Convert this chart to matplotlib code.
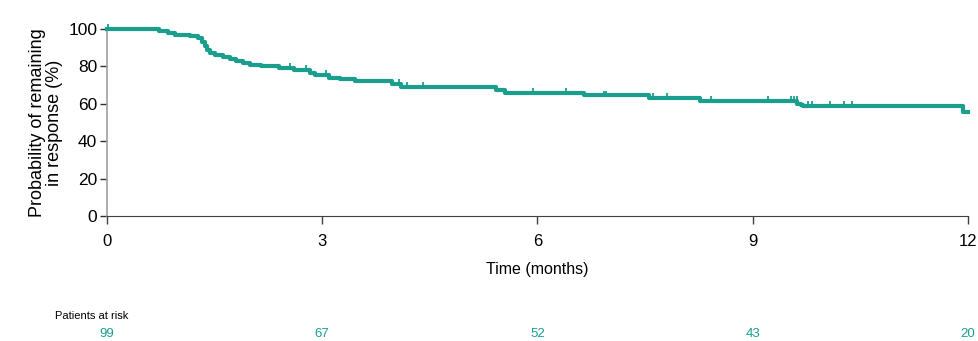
import numpy as np
import matplotlib.pyplot as plt

# Kaplan-Meier curve: event times (months) and survival (%) after each drop
event_times = [0, 0.72, 0.85, 0.95, 1.15, 1.27, 1.33, 1.36, 1.39, 1.43, 1.5, 1.62, 1.72,
               1.8, 1.9, 2.0, 2.15, 2.4, 2.6, 2.83, 2.9, 3.1, 3.25, 3.45, 3.97, 4.1,
               5.42, 5.55, 6.65, 7.55, 8.27, 9.62, 9.67, 9.7, 11.93, 12.0]
survival = [100, 99, 98, 97, 96, 95, 93, 91, 89, 87, 86, 85, 84,
            83, 82, 81, 80, 79, 78, 76.5, 75.5, 74, 73, 72, 70.5, 69,
            67.5, 66, 64.5, 63, 61.5, 60, 59.5, 59, 55.5, 55.5]
censor_times = [0.02, 2.55, 2.78, 3.05, 4.07, 4.18, 4.4, 5.94, 6.4, 6.93, 6.96, 7.61, 7.81,
                8.42, 9.21, 9.53, 9.57, 9.61, 9.77, 9.83, 10.08, 10.27, 10.38]

risk_times = [0, 3, 6, 9, 12]
at_risk = [99, 67, 52, 43, 20]

teal = "#1a9e8e"
plt.rcParams['font.family'] = ['Liberation Sans', 'DejaVu Sans']

fig = plt.figure(figsize=(9.79, 3.41), dpi=100)
ax = fig.add_axes([107 / 979, 1 - 216 / 341, 861 / 979, 187 / 341])

ax.step(event_times, survival, where='post', color=teal, lw=3, clip_on=False, zorder=3)
idx = np.searchsorted(event_times, censor_times, side='right') - 1
cens_y = np.array(survival)[idx] + 1.0
ax.plot(censor_times, cens_y, ls='none', marker='|', ms=5, mew=1.3, color=teal,
        clip_on=False, zorder=3)

ax.set_xlim(0, 12)
ax.set_ylim(0, 100)
ax.set_xticks(risk_times)
ax.set_yticks(range(0, 101, 20))
for s in ['top', 'right']:
    ax.spines[s].set_visible(False)
ax.spines['left'].set_color('#a0a0a0')
ax.spines['bottom'].set_color('#404040')
ax.spines['left'].set_linewidth(1.2)
ax.tick_params(axis='y', length=5, width=1, color='#303030', labelsize=12.5, pad=2)
ax.tick_params(axis='x', length=6, width=1, color='#404040', labelsize=12, pad=7)

ax.set_xlabel("Time (months)", fontsize=11.5, labelpad=9)
ax.set_ylabel("Probability of remaining\nin response (%)", fontsize=13, linespacing=0.95,
              labelpad=4)

fig.text(55 / 979, 1 - 316 / 341, "Patients at risk", fontsize=8, va='center')
for t, n in zip(risk_times, at_risk):
    x_fig = (107 + t / 12 * 861) / 979
    fig.text(x_fig, 1 - 334 / 341, str(n), fontsize=9.5, color=teal, ha='center', va='center')

fig.savefig("out.png", dpi=100)
